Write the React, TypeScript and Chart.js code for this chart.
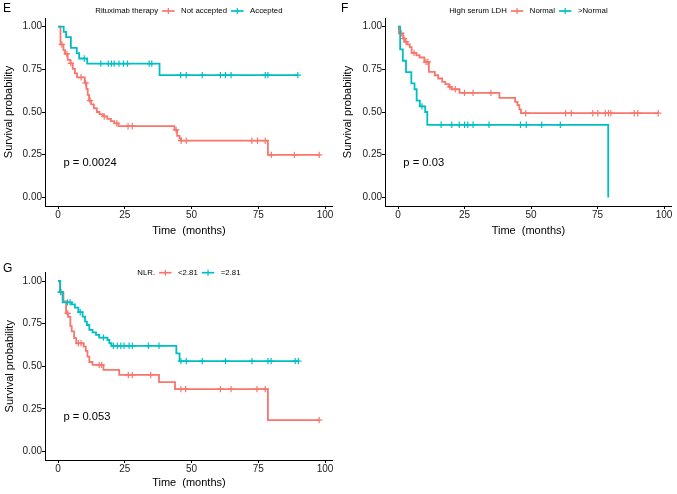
import { useEffect, useRef } from "react";
import { Chart, registerables } from "chart.js";

Chart.register(...registerables);

const RED = "#F8766D";
const CYAN = "#00BFC4";
const FONT = "'Liberation Sans', Arial, Helvetica, sans-serif";

// Axes
const xTicks = [0, 25, 50, 75, 100];
const yTicks = [0, 0.25, 0.5, 0.75, 1];
const yTickLabels = ["0.00", "0.25", "0.50", "0.75", "1.00"];
const xMin = -4.9;
const xMax = 102.9;
const yMin = -0.05;
const yMax = 1.05;
const xTitle = "Time  (months)";
const yTitle = "Survival probability";

// Panel E: Rituximab therapy
const eRedTimes = [0.9, 2.0, 2.6, 3.6, 4.6, 5.5, 6.3, 7.1, 10.0, 10.6, 11.1, 11.6, 12.4, 13.4, 14.5, 15.5, 16.8, 18.4, 19.8, 21.0, 22.6, 43.6, 44.6, 45.5, 46.0, 78.6];
const eRedSurv = [0.895, 0.862, 0.84, 0.805, 0.785, 0.752, 0.726, 0.703, 0.67, 0.635, 0.6, 0.567, 0.545, 0.522, 0.5, 0.487, 0.474, 0.46, 0.447, 0.434, 0.417, 0.395, 0.36, 0.345, 0.332, 0.249];
const eRedCensor = [1.4, 3.3, 4.8, 8.6, 10.3, 12.0, 17.3, 22.0, 26.2, 27.8, 44.2, 46.1, 48.0, 72.6, 74.7, 77.6, 79.9, 88.5, 97.8];
const eCyanTimes = [2.1, 3.0, 4.8, 7.0, 7.9, 10.9, 38.0];
const eCyanSurv = [0.969, 0.938, 0.875, 0.844, 0.813, 0.783, 0.716];
const eCyanCensor = [9.8, 16.0, 18.8, 20.0, 21.0, 22.8, 24.5, 26.0, 34.1, 35.1, 45.9, 48.0, 54.0, 60.8, 62.7, 64.8, 77.6, 78.6, 89.8];

// Panel F: High serum LDH
const fRedTimes = [0.3, 1.9, 2.6, 3.5, 4.4, 5.1, 6.9, 8.1, 9.9, 11.6, 13.8, 15.1, 16.6, 17.8, 19.1, 20.1, 23.1, 38.1, 44.0, 44.9, 45.6, 46.2];
const fRedSurv = [0.96, 0.93, 0.91, 0.896, 0.88, 0.846, 0.832, 0.819, 0.793, 0.735, 0.715, 0.696, 0.676, 0.663, 0.647, 0.633, 0.612, 0.583, 0.559, 0.54, 0.515, 0.493];
const fRedCensor = [1.2, 2.2, 3.0, 6.0, 10.5, 11.2, 19.5, 21.5, 25.0, 28.2, 34.9, 48.0, 63.0, 65.1, 73.2, 75.1, 77.9, 79.1, 80.0, 88.8, 90.1, 97.8];
const fCyanTimes = [0.8, 1.8, 3.0, 5.0, 6.2, 7.0, 8.2, 10.2, 11.0, 79.0];
const fCyanSurv = [0.867, 0.8, 0.733, 0.667, 0.633, 0.567, 0.533, 0.5, 0.425, 0];
const fCyanCensor = [9.0, 16.2, 20.2, 23.0, 25.0, 26.2, 28.2, 34.2, 46.0, 48.2, 54.0, 61.0];

// Panel G: NLR
const gRedTimes = [0.7, 2.0, 3.0, 3.8, 4.6, 5.1, 6.0, 6.8, 9.6, 10.4, 11.0, 11.7, 12.9, 17.0, 22.9, 37.8, 43.8, 78.6];
const gRedSurv = [0.935, 0.88, 0.81, 0.79, 0.735, 0.705, 0.665, 0.635, 0.615, 0.59, 0.557, 0.525, 0.508, 0.479, 0.449, 0.407, 0.366, 0.184];
const gRedCensor = [1.0, 3.6, 7.6, 8.6, 15.4, 16.3, 26.3, 27.8, 34.7, 46.0, 47.8, 60.8, 64.8, 74.5, 77.6, 97.8];
const gCyanTimes = [0.8, 1.7, 5.1, 6.3, 7.6, 9.2, 10.1, 10.8, 11.7, 12.9, 14.2, 15.4, 18.5, 19.2, 20.0, 44.3, 45.5];
const gCyanSurv = [0.935, 0.875, 0.863, 0.844, 0.817, 0.791, 0.762, 0.742, 0.713, 0.699, 0.684, 0.668, 0.654, 0.635, 0.62, 0.576, 0.53];
const gCyanCensor = [1.0, 3.5, 4.5, 8.3, 17.0, 20.7, 22.2, 23.5, 24.7, 26.6, 27.8, 33.8, 37.8, 46.0, 48.0, 54.0, 62.7, 72.6, 78.6, 79.8, 88.8, 90.0];

type Pt = { x: number; y: number };

function survAt(times: number[], surv: number[], t: number): number {
  let s = 1;
  for (let i = 0; i < times.length; i++) {
    if (times[i] <= t) s = surv[i];
  }
  return s;
}

function stepPoints(times: number[], surv: number[], censor: number[]): Pt[] {
  const pts: Pt[] = [{ x: 0, y: 1 }];
  times.forEach((t, i) => pts.push({ x: t, y: surv[i] }));
  const lastT = times[times.length - 1];
  const end = Math.max(lastT, ...censor);
  if (end > lastT) pts.push({ x: end, y: surv[surv.length - 1] });
  return pts;
}

function censorPoints(times: number[], surv: number[], censor: number[]): Pt[] {
  return censor.map((c) => ({ x: c, y: survAt(times, surv, c) }));
}

type PanelCfg = {
  letter: string;
  letterY: number;
  legendTitle: string;
  labels: [string, string];
  legendY: number;
  pText: string;
  pX: number;
  pY: number;
  red: [number[], number[], number[]];
  cyan: [number[], number[], number[]];
  left: number;
  top: number;
  width: number;
  height: number;
  yAxisWidth: number;
  xAxisHeight: number;
  padTop: number;
  padRight: number;
  yTitlePad: number;
  xTitlePad: number;
};

const panels: PanelCfg[] = [
  {
    letter: "E", letterY: 8.5, legendTitle: "Rituximab therapy", labels: ["Not accepted", "Accepted"], legendY: 11,
    pText: "p = 0.0024", pX: 2, pY: 0.2,
    red: [eRedTimes, eRedSurv, eRedCensor], cyan: [eCyanTimes, eCyanSurv, eCyanCensor],
    left: 0, top: 0, width: 338, height: 250, yAxisWidth: 45, xAxisHeight: 44, padTop: 18, padRight: 4, yTitlePad: 2.4, xTitlePad: 12.4,
  },
  {
    letter: "F", letterY: 8.5, legendTitle: "High serum LDH", labels: ["Normal", ">Normal"], legendY: 11,
    pText: "p = 0.03", pX: 2, pY: 0.2,
    red: [fRedTimes, fRedSurv, fRedCensor], cyan: [fCyanTimes, fCyanSurv, fCyanCensor],
    left: 338, top: 0, width: 339, height: 250, yAxisWidth: 47, xAxisHeight: 44, padTop: 18, padRight: 4, yTitlePad: 3.4, xTitlePad: 12.4,
  },
  {
    letter: "G", letterY: 18.5, legendTitle: "NLR.", labels: ["<2.81", "=2.81"], legendY: 22.7,
    pText: "p = 0.053", pX: 2, pY: 0.2,
    red: [gRedTimes, gRedSurv, gRedCensor], cyan: [gCyanTimes, gCyanSurv, gCyanCensor],
    left: 0, top: 250, width: 338, height: 244, yAxisWidth: 45, xAxisHeight: 34, padTop: 22.5, padRight: 4, yTitlePad: 2.9, xTitlePad: 4.1,
  },
];

function KMPanel({ cfg }: { cfg: PanelCfg }) {
  const ref = useRef<HTMLCanvasElement>(null);
  useEffect(() => {
    const canvas = ref.current;
    if (!canvas) return;

    const overlay = {
      id: "kmOverlay",
      afterDraw(chart: any) {
        const ctx = chart.ctx as CanvasRenderingContext2D;
        const xs = chart.scales.x;
        const ys = chart.scales.y;
        const area = chart.chartArea;
        ctx.save();
        ctx.fillStyle = "#000";
        ctx.textAlign = "left";
        ctx.textBaseline = "middle";
        // panel letter
        ctx.font = `12px ${FONT}`;
        ctx.fillText(cfg.letter, 3, cfg.letterY);
        // p-value
        ctx.font = `11.2px ${FONT}`;
        ctx.fillText(cfg.pText, xs.getPixelForValue(cfg.pX), ys.getPixelForValue(cfg.pY));
        // legend
        ctx.font = `7.8px ${FONT}`;
        const symW = 12.5, gapTitle = 4, gapSym = 6.5, gapItem = 4;
        const wT = ctx.measureText(cfg.legendTitle).width;
        const w1 = ctx.measureText(cfg.labels[0]).width;
        const w2 = ctx.measureText(cfg.labels[1]).width;
        const total = wT + gapTitle + symW + gapSym + w1 + gapItem + symW + gapSym + w2;
        let x = (area.left + area.right) / 2 - total / 2;
        const y = cfg.legendY;
        const sym = (sx: number, color: string) => {
          ctx.strokeStyle = color;
          ctx.lineWidth = 1.7;
          ctx.beginPath();
          ctx.moveTo(sx, y);
          ctx.lineTo(sx + symW, y);
          ctx.stroke();
          ctx.lineWidth = 1.2;
          ctx.beginPath();
          ctx.moveTo(sx + symW / 2, y - 3);
          ctx.lineTo(sx + symW / 2, y + 3);
          ctx.stroke();
        };
        ctx.fillText(cfg.legendTitle, x, y);
        x += wT + gapTitle;
        sym(x, RED);
        x += symW + gapSym;
        ctx.fillText(cfg.labels[0], x, y);
        x += w1 + gapItem;
        sym(x, CYAN);
        x += symW + gapSym;
        ctx.fillText(cfg.labels[1], x, y);
        ctx.restore();
      },
    };

    const [rt, rs, rc] = cfg.red;
    const [ct, cs, cc] = cfg.cyan;

    const tickFont = { family: FONT, size: 10 };
    const titleFont = { family: FONT, size: 11 };

    const chart = new Chart(canvas, {
      type: "line",
      data: {
        datasets: [
          {
            data: censorPoints(ct, cs, cc),
            showLine: false,
            pointStyle: "cross",
            pointRadius: 3.2,
            pointBorderWidth: 1.2,
            borderColor: CYAN,
            backgroundColor: CYAN,
          },
          {
            data: stepPoints(ct, cs, cc),
            stepped: "before",
            borderColor: CYAN,
            borderWidth: 1.8,
            pointRadius: 0,
            fill: false,
          },
          {
            data: censorPoints(rt, rs, rc),
            showLine: false,
            pointStyle: "cross",
            pointRadius: 3.2,
            pointBorderWidth: 1.2,
            borderColor: RED,
            backgroundColor: RED,
          },
          {
            data: stepPoints(rt, rs, rc),
            stepped: "before",
            borderColor: RED,
            borderWidth: 1.8,
            pointRadius: 0,
            fill: false,
          },
        ] as any,
      },
      options: {
        animation: false,
        responsive: false,
        maintainAspectRatio: false,
        events: [],
        layout: { padding: { left: 0, right: cfg.padRight, top: cfg.padTop, bottom: 0 } },
        plugins: { legend: { display: false }, tooltip: { enabled: false }, title: { display: false } },
        scales: {
          x: {
            type: "linear",
            min: xMin,
            max: xMax,
            afterBuildTicks: (s: any) => {
              s.ticks = xTicks.map((v) => ({ value: v }));
            },
            afterFit: (s: any) => {
              s.height = cfg.xAxisHeight;
            },
            ticks: {
              font: tickFont,
              color: "#1a1a1a",
              padding: 0,
              maxRotation: 0,
              autoSkip: false,
              callback: (v: any) => String(v),
            },
            grid: { display: true, drawOnChartArea: false, drawTicks: true, tickLength: 3, color: "#000", lineWidth: 1 },
            border: { display: true, color: "#000", width: 1 },
            title: { display: true, text: xTitle, font: titleFont, color: "#000", padding: { top: 0, bottom: cfg.xTitlePad } },
          },
          y: {
            type: "linear",
            min: yMin,
            max: yMax,
            afterBuildTicks: (s: any) => {
              s.ticks = yTicks.map((v) => ({ value: v }));
            },
            afterFit: (s: any) => {
              s.width = cfg.yAxisWidth;
            },
            ticks: {
              font: tickFont,
              color: "#1a1a1a",
              padding: 0,
              autoSkip: false,
              callback: (_v: any, i: number) => yTickLabels[i],
            },
            grid: { display: true, drawOnChartArea: false, drawTicks: true, tickLength: 3, color: "#000", lineWidth: 1 },
            border: { display: true, color: "#000", width: 1 },
            title: { display: true, text: yTitle, font: titleFont, color: "#000", padding: { top: cfg.yTitlePad, bottom: 0 } },
          },
        },
      } as any,
      plugins: [overlay],
    });
    return () => chart.destroy();
  }, [cfg]);

  return (
    <canvas
      ref={ref}
      width={cfg.width}
      height={cfg.height}
      style={{ position: "absolute", left: cfg.left, top: cfg.top, width: cfg.width, height: cfg.height }}
    />
  );
}

export default function App() {
  return (
    <div style={{ position: "absolute", left: 0, top: 0, width: 677, height: 494, background: "#fff", overflow: "hidden" }}>
      {panels.map((p) => (
        <KMPanel key={p.letter} cfg={p} />
      ))}
    </div>
  );
}
